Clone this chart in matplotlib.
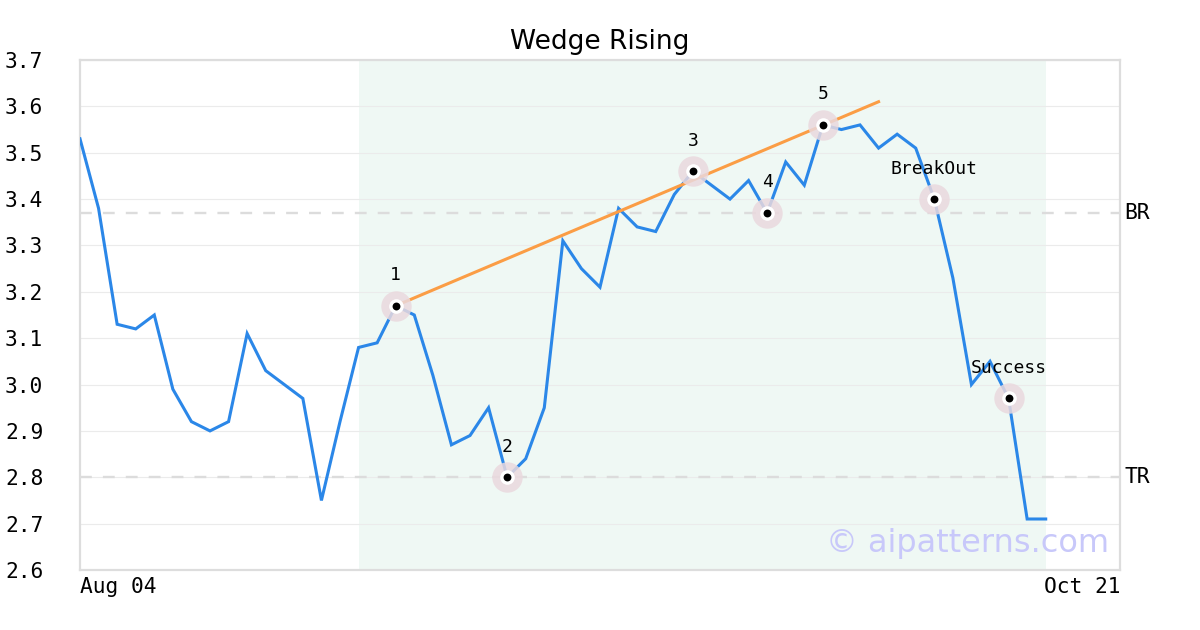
import matplotlib
matplotlib.use("Agg")
import matplotlib.pyplot as plt
import matplotlib.transforms as mtransforms
import numpy as np

# ---- data ----
prices = [3.53, 3.38, 3.13, 3.12, 3.15, 2.99, 2.92, 2.90, 2.92, 3.11,
          3.03, 3.00, 2.97, 2.75, 2.92, 3.08, 3.09, 3.17, 3.15, 3.02,
          2.87, 2.89, 2.95, 2.80, 2.84, 2.95, 3.31, 3.25, 3.21, 3.38,
          3.34, 3.33, 3.41, 3.46, 3.43, 3.40, 3.44, 3.37, 3.48, 3.43,
          3.56, 3.55, 3.56, 3.51, 3.54, 3.51, 3.40, 3.23, 3.00, 3.05,
          2.97, 2.71, 2.71]
x_span = 56                      # last slot index of the date axis
tick_positions = [0, 56]
tick_labels = ["Aug 04", "Oct 21"]
pattern_start, pattern_end = 15, 52
wedge_x = [17, 43]
wedge_y = [3.17, 3.61]
point_idx = [17, 23, 33, 37, 40, 46, 50]
point_labels = ["1", "2", "3", "4", "5", "BreakOut", "Success"]
br_level, tr_level = 3.37, 2.80
yticks = [2.6, 2.7, 2.8, 2.9, 3.0, 3.1, 3.2, 3.3, 3.4, 3.5, 3.6, 3.7]

mono = "DejaVu Sans Mono"

fig = plt.figure(figsize=(12, 6.3), dpi=100)
ax = fig.add_axes([80/1200, 60/630, 1040/1200, 510/630])

x = np.arange(len(prices))

ax.axvspan(pattern_start, pattern_end, color="#eff8f4", zorder=0, lw=0)

for lvl in (br_level, tr_level):
    ax.axhline(lvl, color="#dcdcdc", lw=1.7, linestyle=(0, (5.0, 4.7)), zorder=1)

ax.plot(x, prices, color="#2b87e8", lw=2.2, zorder=3, solid_joinstyle="miter")
ax.plot(wedge_x, wedge_y, color="#fb9d45", lw=2.2, zorder=4)

px = [x[i] for i in point_idx]
py = [prices[i] for i in point_idx]
ax.scatter(px, py, s=480, color="#ead9de", alpha=0.85, zorder=5, linewidths=0)
ax.scatter(px, py, s=110, color="white", zorder=6, linewidths=0)
ax.scatter(px, py, s=32, color="black", zorder=7, linewidths=0)
for xi, yi, lab in zip(px, py, point_labels):
    ax.annotate(lab, (xi, yi), xytext=(0, 22), textcoords="offset points",
                ha="center", va="center", fontsize=13, family=mono,
                color="black", zorder=8)

ax.set_xlim(0, x_span)
ax.set_ylim(2.6, 3.7)
ax.set_yticks(yticks)
ax.set_yticklabels([f"{v:.1f}" for v in yticks], family=mono, fontsize=15.3)
for lab in ax.get_yticklabels():
    lab.set_horizontalalignment("left")
ax.tick_params(axis="y", length=0, pad=54)
ax.set_xticks(tick_positions)
ax.set_xticklabels(tick_labels, family=mono, fontsize=15.3)
xl = ax.get_xticklabels()
xl[0].set_horizontalalignment("left")
xl[-1].set_horizontalalignment("right")
ax.tick_params(axis="x", length=0, pad=5)

ax.grid(axis="y", color="#ebebeb", lw=0.8, zorder=0.5)
ax.grid(axis="x", visible=False)
ax.set_axisbelow(True)
for sp in ax.spines.values():
    sp.set_color("#dddddd")
    sp.set_linewidth(1.6)

trans = mtransforms.blended_transform_factory(ax.transAxes, ax.transData)
ax.text(1.004, br_level, "BR", transform=trans, ha="left", va="center",
        family=mono, fontsize=15.3, clip_on=False)
ax.text(1.004, tr_level, "TR", transform=trans, ha="left", va="center",
        family=mono, fontsize=15.3, clip_on=False)

ax.text(0.99, 0.035, "\u00a9 aipatterns.com", transform=ax.transAxes,
        ha="right", va="baseline", fontsize=23, color="#c8c8fa",
        family="DejaVu Sans", zorder=2)

ax.set_title("Wedge Rising", fontsize=19, family="DejaVu Sans", pad=8)

fig.savefig("out.png", dpi=100)
